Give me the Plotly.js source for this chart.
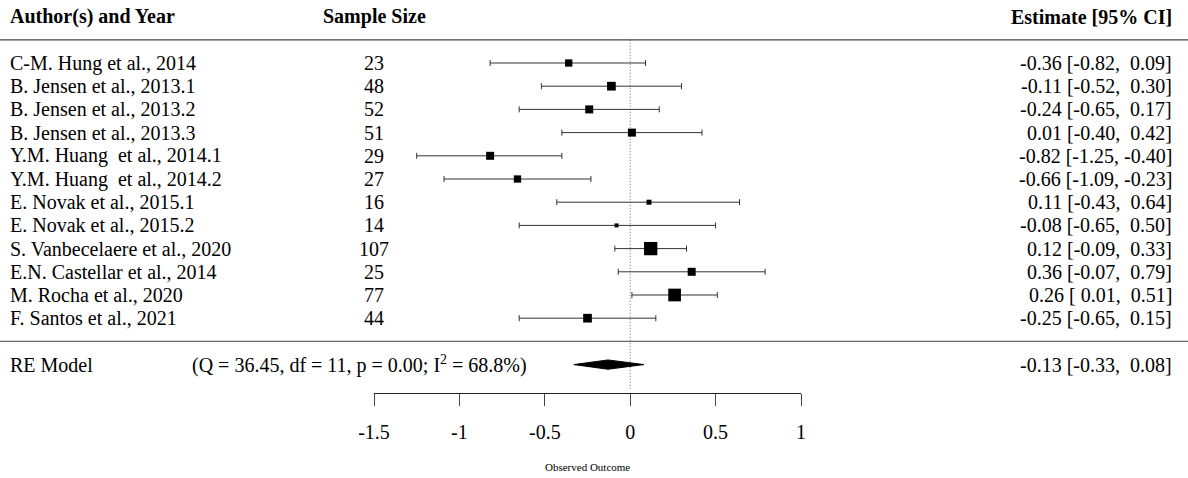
<!DOCTYPE html>
<html>
<head>
<meta charset="utf-8">
<script src="https://cdn.plot.ly/plotly-3.0.1.min.js"></script>
<style>html,body{margin:0;padding:0;background:#fff;}#chart{width:1188px;height:478px;}</style>
</head>
<body>
<div id="chart"></div>
<script>
// ---- data ----
const authors = [
  "C-M. Hung et al., 2014",
  "B. Jensen et al., 2013.1",
  "B. Jensen et al., 2013.2",
  "B. Jensen et al., 2013.3",
  "Y.M. Huang  et al., 2014.1",
  "Y.M. Huang  et al., 2014.2",
  "E. Novak et al., 2015.1",
  "E. Novak et al., 2015.2",
  "S. Vanbecelaere et al., 2020",
  "E.N. Castellar et al., 2014",
  "M. Rocha et al., 2020",
  "F. Santos et al., 2021"
];
const sampleSizes = [23, 48, 52, 51, 29, 27, 16, 14, 107, 25, 77, 44];
const estimates = [-0.36, -0.11, -0.24, 0.01, -0.82, -0.66, 0.11, -0.08, 0.12, 0.36, 0.26, -0.25];
const ciLower   = [-0.82, -0.52, -0.65, -0.40, -1.25, -1.09, -0.43, -0.65, -0.09, -0.07, 0.01, -0.65];
const ciUpper   = [0.09, 0.30, 0.17, 0.42, -0.40, -0.23, 0.64, 0.50, 0.33, 0.79, 0.51, 0.15];
const reLabel = "RE Model";
const reStats = "(Q = 36.45, df = 11, p = 0.00; I<sup>2</sup> = 68.8%)";
const reEstimate = -0.13;
const reLower = -0.33;
const reUpper = 0.08;
const headers = ["Author(s) and Year", "Sample Size", "Estimate [95% CI]"];
const axisTickValues = [-1.5, -1, -0.5, 0, 0.5, 1];
const axisTickLabels = ["-1.5", "-1", "-0.5", "0", "0.5", "1"];
const axisTitle = "Observed Outcome";

// ---- style ----
const markerPx = [7.3, 8.7, 8, 8, 8, 7.3, 5, 4, 13.3, 8, 12.7, 8.7];
const FONT = "Liberation Serif, Times New Roman, serif";
const LINE = "#333";

const k = authors.length;
const rowY = authors.map((_, i) => k - i);   // 12 .. 1
const reY = -1;

const pad = v => (v < 0 ? "-" : "\u00A0") + Math.abs(v).toFixed(2);
const fmtCI = (e, l, h) => pad(e) + " [" + pad(l) + ",\u00A0" + pad(h) + "]";

const traces = [];
// reference (dotted) line at 0
traces.push({
  x: [0, 0], y: [k + 1, -2.05], mode: "lines", xaxis: "x", yaxis: "y",
  line: {color: "#666", width: 1, dash: "1px,2px"}, hoverinfo: "skip"
});
// study estimates with CIs
traces.push({
  x: estimates, y: rowY, mode: "markers", type: "scatter",
  marker: {symbol: "square", size: markerPx, color: "#000", opacity: 1, line: {width: 0}},
  error_x: {
    type: "data", symmetric: false,
    array: estimates.map((e, i) => ciUpper[i] - e),
    arrayminus: estimates.map((e, i) => e - ciLower[i]),
    color: LINE, thickness: 1, width: 3
  },
  hoverinfo: "skip", cliponaxis: false
});
// summary diamond
const dh = 0.2;
traces.push({
  x: [reLower, reEstimate, reUpper, reEstimate, reLower],
  y: [reY, reY + dh, reY, reY - dh, reY],
  mode: "lines", fill: "toself", fillcolor: "#000",
  line: {color: "#000", width: 1}, hoverinfo: "skip"
});
// trace carrying the drawn outcome axis (x2)
traces.push({
  x: axisTickValues, y: axisTickValues.map(() => -2.2), xaxis: "x2", yaxis: "y",
  mode: "markers", marker: {opacity: 0, size: 1}, hoverinfo: "skip"
});

const ann = [];
const txt = (x, y, text, anchor, bold, size) => ann.push({
  xref: "paper", yref: "y", x: x, y: y, text: bold ? "<b>" + text + "</b>" : text,
  showarrow: false, xanchor: anchor, yanchor: "middle",
  font: {family: FONT, size: size || 20, color: "#000"}
});
const xLabel = 8 / 1188, xSample = 374 / 1188, xEst = 1174 / 1188;
txt(xLabel, k + 2, headers[0], "left", true);
txt(xSample, k + 2, headers[1], "center", true);
txt(xEst, k + 2, headers[2], "right", true);
authors.forEach((a, i) => {
  txt(xLabel, rowY[i], a, "left");
  txt(xSample, rowY[i], String(sampleSizes[i]), "center");
  txt(xEst, rowY[i], fmtCI(estimates[i], ciLower[i], ciUpper[i]), "right");
});
txt(xLabel, reY, reLabel, "left");
txt(190 / 1188, reY, reStats, "left");
txt(xEst, reY, fmtCI(reEstimate, reLower, reUpper), "right");
ann.push({
  xref: "x2", yref: "y", x: (axisTickValues[0] + axisTickValues[axisTickValues.length - 1]) / 2, y: -5.41,
  text: axisTitle, showarrow: false, xanchor: "center", yanchor: "middle",
  font: {family: FONT, size: 11, color: "#000"}
});

const xR = [-630.2 / 170.8, (1188 - 630.2) / 170.8];
const layout = {
  width: 1188, height: 478,
  margin: {l: 0, r: 0, t: 0, b: 0, pad: 0},
  paper_bgcolor: "#fff", plot_bgcolor: "rgba(0,0,0,0)",
  showlegend: false, hovermode: false,
  xaxis: {range: xR, visible: false, fixedrange: true},
  xaxis2: {
    anchor: "free", position: 1 - 393 / 478,
    domain: [374 / 1188, 801 / 1188], range: [-1.5, 1],
    showline: true, linecolor: "#222", linewidth: 1,
    ticks: "outside", ticklen: 12, tickwidth: 1, tickcolor: "#444",
    tickmode: "array", tickvals: axisTickValues, ticktext: axisTickLabels,
    tickfont: {family: FONT, size: 20, color: "#000"},
    ticklabelstandoff: 9,
    showgrid: false, zeroline: false, fixedrange: true
  },
  yaxis: {range: [12 - 415 / 23.2, 12 + 63 / 23.2], visible: false, fixedrange: true},
  shapes: [
    {type: "line", xref: "paper", yref: "y", x0: 0, x1: 1, y0: k + 1, y1: k + 1, line: {color: "#444", width: 1.3}},
    {type: "line", xref: "paper", yref: "y", x0: 0, x1: 1, y0: 0, y1: 0, line: {color: "#666", width: 1.3}}
  ],
  annotations: ann
};
Plotly.newPlot("chart", traces, layout, {displayModeBar: false, staticPlot: true});
</script>
</body>
</html>
